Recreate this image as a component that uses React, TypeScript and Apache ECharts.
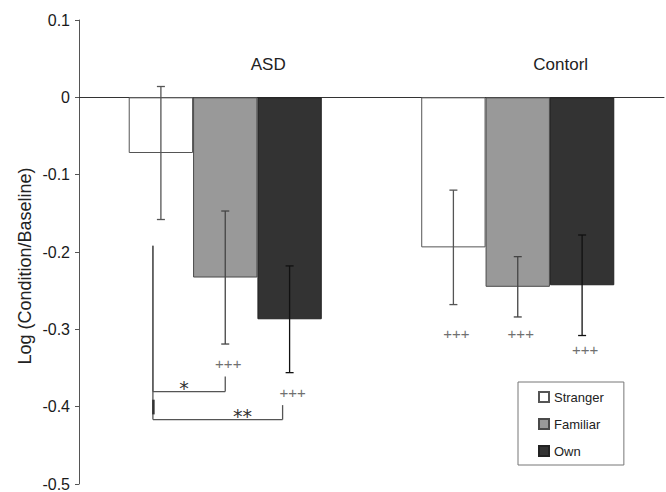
import React, { useEffect, useRef } from "react";
import * as echarts from "echarts";

const categories = ["ASD", "Contorl"];
const seriesNames = ["Stranger", "Familiar", "Own"];
const stranger = [-0.072, -0.194];
const familiar = [-0.233, -0.245];
const own = [-0.287, -0.243];
const strangerErr = [0.086, 0.074];
const familiarErr = [0.086, 0.039];
const ownErr = [0.069, 0.065];
// "+++" markers: [category, bar, y value]
const plusMarks = [
  [0, 1, -0.344],
  [0, 2, -0.382],
  [1, 0, -0.306],
  [1, 1, -0.306],
  [1, 2, -0.326],
];
// significance brackets: [category, fromBar, toBar, lineY, tipTopY, label]
const brackets: [number, number, number, number, number, string][] = [
  [0, 0, 1, -0.3805, -0.361, "*"],
  [0, 0, 2, -0.4167, -0.398, "**"],
];
const bracketStemTop = -0.192;
const yTicks = { min: -0.5, max: 0.1, interval: 0.1 };
const groupLabelY = 0.043;
const yTitle = "Log (Condition/Baseline)";

const FONT = "Liberation Sans, Arial, sans-serif";
const GAP = 0.34;

export default function App() {
  const ref = useRef<HTMLDivElement>(null);
  useEffect(() => {
    if (!ref.current) return;
    const chart = echarts.init(ref.current, undefined, { renderer: "svg" });
    const values = [stranger, familiar, own];
    const errs = [strangerErr, familiarErr, ownErr];
    const fills = ["#ffffff", "#999999", "#333333"];
    const borders = ["#555555", "#4a4a4a", "#222222"];
    const errColors = ["#555555", "#444444", "#111111"];

    const errData: number[][] = [];
    values.forEach((arr, b) =>
      arr.forEach((v, c) => errData.push([c, b, v - errs[b][c], v + errs[b][c]]))
    );

    const bw = (api: any) => (api.size([1, 0])[0] * (1 - GAP)) / 3;
    const barX = (api: any, c: number, b: number) =>
      api.coord([c, 0])[0] + (b - 1) * bw(api);

    chart.setOption({
      animation: false,
      grid: { left: 79, right: 2, top: 20, bottom: 5.3 },
      graphic: [
        {
          type: "text",
          x: 25,
          y: 266,
          rotation: Math.PI / 2,
          style: {
            text: yTitle,
            fontSize: 18,
            fontFamily: FONT,
            fill: "#222",
            align: "center",
            verticalAlign: "middle",
          },
        },
      ],
      legend: {
        data: seriesNames,
        orient: "vertical",
        left: 518,
        top: 382,
        padding: [8, 20, 7, 20],
        borderColor: "#777",
        borderWidth: 1,
        itemWidth: 10,
        itemHeight: 10,
        itemGap: 13,
        icon: "rect",
        textStyle: { fontSize: 13, color: "#222", fontFamily: FONT, lineHeight: 14 },
      },
      xAxis: {
        type: "category",
        data: categories,
        axisLine: { show: true, onZero: true, lineStyle: { color: "#333", width: 1 } },
        axisTick: { show: false },
        axisLabel: { show: false },
        splitLine: { show: false },
      },
      yAxis: {
        type: "value",
        min: yTicks.min,
        max: yTicks.max,
        interval: yTicks.interval,
        axisLine: { show: true, lineStyle: { color: "#555", width: 1 } },
        axisTick: { show: true, length: 4, inside: false, lineStyle: { color: "#555" } },
        axisLabel: {
          fontSize: 16,
          color: "#1a1a1a",
          fontFamily: FONT,
          margin: 9,
          formatter: (v: number) => (Math.abs(v) < 1e-9 ? "0" : v.toFixed(1)),
        },
        splitLine: { show: false },
      },
      series: [
        ...seriesNames.map((name, b) => ({
          name,
          type: "bar",
          data: values[b],
          barGap: "0%",
          barCategoryGap: GAP * 100 + "%",
          itemStyle: { color: fills[b], borderColor: borders[b], borderWidth: 1 },
          z: 2,
        })),
        {
          type: "custom",
          name: "errors",
          data: errData,
          encode: { x: 0, y: [2, 3] },
          z: 5,
          renderItem: (_p: any, api: any) => {
            const c = api.value(0);
            const b = api.value(1);
            const x = barX(api, c, b);
            const y1 = api.coord([c, api.value(2)])[1];
            const y2 = api.coord([c, api.value(3)])[1];
            const st = { stroke: errColors[b], lineWidth: 1.3 };
            return {
              type: "group",
              children: [
                { type: "line", shape: { x1: x, y1, x2: x, y2 }, style: st },
                { type: "line", shape: { x1: x - 4, y1, x2: x + 4, y2: y1 }, style: st },
                { type: "line", shape: { x1: x - 4, y1: y2, x2: x + 4, y2 }, style: st },
              ],
            };
          },
        },
        {
          type: "custom",
          name: "plus",
          data: plusMarks,
          encode: { x: 0, y: 2 },
          z: 5,
          renderItem: (_p: any, api: any) => {
            const c = api.value(0);
            const x = barX(api, c, api.value(1)) + 3;
            const y = api.coord([c, api.value(2)])[1];
            return {
              type: "text",
              x,
              y,
              style: {
                text: "+++",
                fontSize: 15,
                fontFamily: FONT,
                fill: "#707070",
                align: "center",
                verticalAlign: "middle",
              },
            };
          },
        },
        {
          type: "custom",
          name: "brackets",
          data: brackets.map((d) => [d[0], d[1], d[2], d[3], d[4]]),
          encode: { x: 0, y: 3 },
          z: 5,
          renderItem: (p: any, api: any) => {
            const c = api.value(0);
            const fromB = api.value(1);
            const toB = api.value(2);
            const ly = api.coord([c, api.value(3)])[1];
            const ty = api.coord([c, api.value(4)])[1];
            const sy = api.coord([c, bracketStemTop])[1];
            const xl = barX(api, c, fromB) - 8;
            const xr = barX(api, c, toB) - (toB === 2 ? 7 : 0);
            const st = { stroke: "#555", lineWidth: 1.3 };
            const label = brackets[p.dataIndex][5];
            const frac = toB === 2 ? 0.69 : 0.43;
            const children: any[] = [
              { type: "line", shape: { x1: xl, y1: sy, x2: xl, y2: ly }, style: st },
              { type: "line", shape: { x1: xl, y1: ly, x2: xr, y2: ly }, style: st },
              { type: "line", shape: { x1: xr, y1: ty, x2: xr, y2: ly }, style: st },
              {
                type: "text",
                x: xl + (xr - xl) * frac,
                y: ly - 4,
                style: {
                  text: label,
                  fontSize: 19,
                  fontFamily: "DejaVu Sans, sans-serif",
                  fill: "#333",
                  align: "center",
                  verticalAlign: "middle",
                },
              },
            ];
            if (toB === 2) {
              const a = api.coord([c, -0.391])[1];
              const bb = api.coord([c, -0.41])[1];
              children.push({
                type: "line",
                shape: { x1: xl + 0.5, y1: a, x2: xl + 0.5, y2: bb },
                style: { stroke: "#333", lineWidth: 2.5 },
              });
            }
            return { type: "group", children };
          },
        },
        {
          type: "custom",
          name: "groups",
          data: categories.map((_n, i) => [i, groupLabelY]),
          encode: { x: 0, y: 1 },
          z: 5,
          renderItem: (p: any, api: any) => {
            const c = api.value(0);
            const pt = api.coord([c, api.value(1)]);
            return {
              type: "text",
              x: pt[0] + 43,
              y: pt[1],
              style: {
                text: categories[p.dataIndex],
                fontSize: 17,
                fontFamily: FONT,
                fill: "#222",
                align: "center",
                verticalAlign: "middle",
              },
            };
          },
        },
      ],
    });
    return () => chart.dispose();
  }, []);
  return (
    <div
      ref={ref}
      style={{ position: "fixed", left: 0, top: 0, width: 666, height: 492, background: "#fff" }}
    />
  );
}
